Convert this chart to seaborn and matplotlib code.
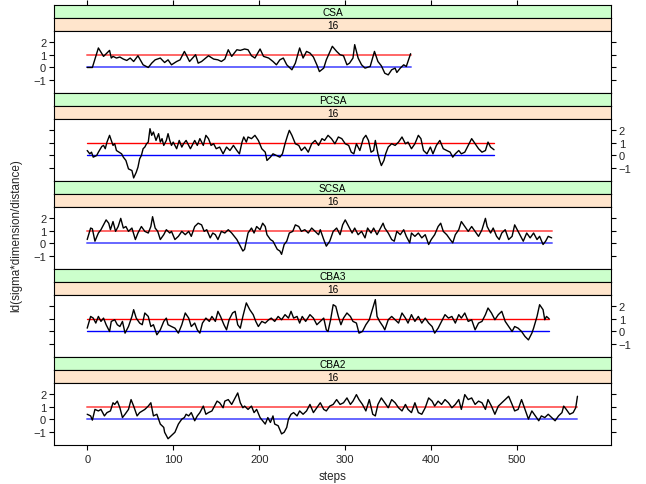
import matplotlib
matplotlib.use("Agg")
import matplotlib.pyplot as plt
import seaborn as sns

# Panel names (outer strip) and the dimension shown in the inner strip
PANELS = ["CSA", "PCSA", "SCSA", "CBA3", "CBA2"]
DIM_LABEL = "16"

# Turning points (step, value)
csa_steps = [0, 6, 13, 19, 26, 28, 30, 34, 38, 42, 46, 50, 54, 59, 65, 71, 75, 79, 85, 90,
             94, 98, 104, 108, 113, 116, 119, 126, 129, 133, 141, 147, 152, 156, 160, 164,
             168, 174, 178, 183, 187, 191, 195, 201, 205, 211, 216, 220, 224, 228, 232, 238,
             242, 247, 251, 255, 259, 263, 267, 270, 275, 278, 285, 290, 294, 298, 302, 305,
             309, 311, 315, 319, 323, 329, 334, 338, 342, 346, 350, 354, 358, 360, 364, 368,
             371, 376]
csa_vals = [0.0, 0.0, 1.53, 0.87, 1.34, 0.74, 0.87, 0.74, 0.82, 0.66, 0.55, 0.74, 0.47, 0.92,
            0.21, 0.0, 0.34, 0.6, 0.74, 0.39, 0.6, 0.21, 0.47, 0.6, 1.26, 0.87, 0.47, 1.0, 0.34,
            0.47, 0.92, 0.66, 0.6, 0.47, 0.66, 1.39, 0.87, 1.39, 1.34, 1.45, 1.39, 0.92, 0.74,
            1.45, 0.87, 0.74, 0.47, 0.21, 0.6, 0.74, 0.21, -0.18, 0.34, 1.53, 0.74, 1.26, 1.13,
            0.82, 0.21, -0.32, -0.05, 0.6, 1.66, 1.26, 1.0, 0.92, 0.21, 0.34, 0.74, 1.79, 0.74,
            0.21, -0.05, 0.08, 1.26, 0.47, 0.13, -0.45, -0.58, -0.18, -0.05, -0.39, -0.05, 0.21,
            0.08, 1.08]

pcsa_steps = [0, 3, 5, 7, 11, 13, 17, 19, 21, 23, 26, 28, 30, 32, 34, 37, 40, 42, 45, 48, 52,
              54, 57, 59, 61, 63, 65, 67, 69, 71, 73, 75, 77, 80, 83, 85, 87, 89, 92, 94, 96,
              98, 100, 104, 107, 110, 112, 115, 118, 120, 123, 125, 128, 131, 135, 138, 141,
              144, 147, 150, 154, 158, 162, 166, 170, 174, 177, 180, 182, 185, 187, 191, 195,
              199, 203, 207, 209, 213, 216, 220, 224, 227, 230, 233, 235, 238, 242, 246, 249,
              253, 257, 261, 265, 269, 273, 276, 280, 284, 288, 292, 296, 300, 304, 307, 310,
              313, 317, 321, 324, 327, 330, 333, 335, 338, 340, 342, 345, 347, 350, 354, 358,
              362, 366, 370, 373, 377, 381, 385, 388, 391, 395, 399, 402, 406, 410, 414, 418,
              422, 425, 428, 432, 435, 439, 443, 447, 451, 455, 459, 463, 466, 469, 473]
pcsa_vals = [0.39, 0.13, 0.26, -0.13, 0.0, 0.26, 0.71, 0.79, 0.53, 1.05, 1.58, 1.18, 0.79, 0.92,
             0.39, 0.26, 0.13, -0.13, -0.39, -1.05, -1.18, -1.76, -1.32, -0.92, -0.26, 0.0, 0.53,
             0.66, 0.92, 1.05, 2.1, 1.58, 1.84, 1.18, 1.71, 1.05, 1.32, 0.79, 1.18, 1.71, 1.18,
             0.79, 1.05, 0.53, 1.18, 0.66, 0.92, 1.18, 0.79, 0.53, 0.92, 1.18, 0.79, 1.32, 0.79,
             1.58, 1.32, 0.79, 0.92, 0.53, 0.66, 0.13, 0.66, 0.39, 0.79, 0.39, 0.13, 1.05, 1.45,
             1.05, 1.45, 1.32, 1.58, 1.18, 0.53, 0.26, -0.39, -0.13, 0.13, 0.0, -0.13, 0.13, 0.92,
             1.58, 1.97, 1.58, 0.92, 0.79, 0.39, 0.66, 0.26, 0.92, 1.18, 0.79, 1.32, 1.18, 1.58,
             1.32, 0.92, 1.45, 1.32, 0.92, 0.79, 0.26, 0.13, 0.92, 0.39, 1.32, 1.58, 1.18, 0.26,
             0.39, 1.18, 0.13, -0.39, -0.79, -0.39, 0.13, 0.66, 0.92, 0.79, 1.05, 1.45, 0.92,
             1.05, 0.53, 0.92, 1.58, 1.32, 0.39, 0.13, 0.66, 0.13, 0.79, 1.18, 0.53, 0.39, 0.26,
             -0.13, 0.13, 0.39, 0.13, 0.26, 0.79, 1.32, 0.92, 0.53, 0.26, 0.39, 1.05, 0.66, 0.45]

scsa_steps = [0, 4, 6, 9, 13, 16, 19, 22, 25, 27, 30, 33, 36, 39, 42, 45, 48, 52, 56, 59, 63,
              67, 71, 74, 76, 79, 82, 85, 89, 92, 96, 98, 102, 106, 110, 114, 118, 121, 125,
              129, 133, 136, 139, 143, 146, 149, 152, 156, 160, 164, 168, 171, 174, 177, 181,
              183, 187, 191, 194, 197, 201, 204, 207, 209, 213, 216, 219, 221, 224, 226, 229,
              232, 235, 239, 242, 246, 249, 253, 257, 261, 265, 269, 271, 275, 278, 282, 286,
              290, 294, 297, 300, 304, 308, 311, 315, 319, 323, 326, 330, 333, 337, 340, 344,
              346, 350, 354, 357, 360, 364, 368, 371, 375, 377, 381, 385, 389, 393, 397, 400,
              404, 408, 411, 414, 418, 422, 425, 428, 432, 435, 439, 443, 447, 451, 455, 459,
              463, 465, 469, 472, 476, 479, 482, 486, 490, 494, 497, 500, 503, 507, 511, 515,
              519, 523, 526, 530, 533, 536, 540]
scsa_vals = [0.31, 1.21, 1.15, 0.18, 0.82, 1.08, 1.46, 1.85, 1.59, 1.08, 1.72, 0.95, 1.33, 1.97,
             1.21, 1.33, 0.95, 1.21, 0.31, 0.82, 1.33, 0.95, 0.82, 1.33, 2.1, 1.21, 0.95, 0.31,
             0.69, 1.08, 0.82, 0.95, 0.31, 0.56, 0.95, 0.69, 0.95, 0.56, 1.33, 1.59, 1.46, 0.95,
             1.08, 0.44, 0.82, 0.69, 0.31, 0.95, 0.82, 1.08, 0.82, 0.56, 0.31, -0.08, -0.59,
             -0.46, 0.82, 1.21, 0.82, 1.33, 1.08, 1.59, 1.33, 0.69, 0.31, 0.18, -0.21, -0.46,
             -0.59, -0.85, -0.08, 0.18, 0.82, 0.95, 1.46, 1.33, 0.95, 1.08, 0.82, 1.21, 0.95,
             0.69, 1.08, 0.31, -0.21, 0.18, 0.95, 1.21, 0.69, 1.46, 1.85, 1.33, 0.82, 1.21, 0.69,
             0.95, 0.44, 1.21, 0.82, 1.21, 0.69, 1.08, 1.59, 1.21, 0.82, 0.31, 0.18, 0.95, 0.69,
             1.08, 0.56, 0.05, 0.82, 0.56, 0.82, 0.44, 0.69, -0.08, 0.31, 0.69, 1.33, 1.59, 0.95,
             0.69, 0.31, 0.05, 0.69, 1.08, 1.72, 1.33, 0.95, 1.33, 0.95, 0.56, 1.08, 1.97, 1.33,
             0.82, 1.21, 0.56, 0.31, 0.82, 1.08, 0.31, 0.56, 1.46, 1.08, 0.69, 0.18, 0.82, 0.44,
             0.82, 0.31, 0.56, -0.08, 0.18, 0.56, 0.44]

cba3_steps = [0, 4, 7, 10, 13, 16, 19, 22, 26, 28, 32, 35, 38, 41, 44, 48, 52, 54, 57, 61, 64,
              67, 71, 74, 77, 81, 85, 89, 92, 94, 98, 102, 106, 110, 114, 118, 121, 125, 128,
              131, 134, 138, 142, 145, 149, 152, 155, 159, 162, 165, 169, 172, 175, 178, 181,
              185, 189, 193, 196, 199, 203, 207, 211, 214, 218, 222, 226, 230, 234, 237, 240,
              244, 247, 250, 254, 259, 263, 267, 271, 275, 278, 280, 283, 286, 289, 292, 295,
              298, 302, 306, 309, 313, 316, 320, 324, 328, 332, 335, 337, 340, 344, 346, 350,
              354, 358, 362, 366, 370, 373, 377, 381, 385, 389, 393, 397, 401, 404, 408, 412,
              416, 420, 424, 428, 432, 435, 439, 443, 447, 451, 455, 459, 463, 466, 470, 474,
              478, 482, 486, 490, 494, 497, 501, 505, 509, 513, 517, 519, 523, 526, 530, 532,
              534, 537]
cba3_vals = [0.26, 1.18, 1.05, 0.66, 1.18, 0.79, 1.05, 0.53, 0.0, 0.79, 0.92, 0.53, 0.39, 0.79,
             -0.13, 0.39, 1.18, 1.71, 1.05, 0.66, 0.53, 1.45, 1.18, 0.39, 0.53, -0.26, 0.13, 0.79,
             1.05, 0.53, 0.39, 0.26, -0.13, 0.53, 1.45, 1.05, 0.39, 0.66, 0.13, -0.13, 0.66, 1.05,
             0.79, 1.18, 0.79, 1.58, 1.18, 0.53, 0.13, 0.92, 1.45, 1.58, 0.53, 0.26, 1.18, 2.24,
             1.71, 1.32, 0.79, 0.39, 0.79, 0.66, 0.92, 1.05, 0.79, 1.18, 0.92, 1.32, 1.05, 1.58,
             1.05, 1.18, 0.66, 1.18, 0.79, 1.32, 1.05, 0.53, 0.79, 1.05, 0.13, 0.0, 0.92, 2.1,
             1.97, 1.18, 0.53, 1.05, 1.45, 1.18, 0.79, 0.66, -0.13, 0.0, 0.53, 0.92, 1.84, 2.5,
             1.18, 0.79, 0.39, 0.13, 0.92, 1.18, 0.92, 0.66, 1.45, 1.05, 0.66, 1.32, 0.79, 1.18,
             0.66, 1.05, 0.66, 0.39, -0.13, 0.26, 0.79, 1.32, 1.05, 1.18, 0.66, 1.32, 1.05, 1.45,
             0.79, 0.92, 0.13, 0.66, 0.79, 1.32, 1.84, 1.45, 0.92, 1.32, 1.58, 0.79, 0.39, 0.0,
             0.39, 0.26, 0.0, -0.39, -0.66, -0.13, 0.26, 1.18, 2.1, 1.71, 0.92, 1.18, 1.0]

cba2_steps = [0, 4, 6, 9, 13, 16, 20, 23, 27, 30, 32, 35, 38, 41, 44, 48, 51, 54, 58, 61, 64,
              67, 71, 74, 77, 81, 85, 89, 90, 94, 98, 102, 106, 110, 113, 115, 118, 121, 125,
              128, 131, 135, 138, 141, 145, 149, 151, 154, 158, 160, 164, 168, 172, 175, 178,
              181, 183, 187, 191, 194, 197, 201, 204, 207, 210, 213, 216, 218, 222, 226, 229,
              232, 234, 237, 240, 244, 247, 251, 255, 259, 263, 267, 271, 275, 278, 282, 286,
              290, 294, 298, 302, 306, 309, 313, 316, 320, 324, 328, 332, 335, 338, 342, 346,
              350, 354, 358, 362, 366, 370, 373, 377, 381, 385, 389, 393, 397, 401, 404, 408,
              412, 416, 420, 424, 428, 432, 435, 439, 443, 447, 451, 455, 459, 463, 466, 470,
              474, 478, 482, 486, 490, 494, 497, 501, 505, 509, 513, 517, 521, 525, 528, 532,
              536, 540, 544, 548, 552, 554, 557, 561, 565, 568, 570]
cba2_vals = [0.41, 0.28, -0.05, 0.79, 0.67, 0.79, 0.28, 0.54, 0.67, 1.31, 1.18, 1.44, 0.92, 0.15,
             0.41, 0.79, 1.56, 1.05, 0.28, 0.54, 0.67, 0.79, 1.05, 1.31, 0.28, 0.41, -0.36, -0.62,
             -1.0, -1.51, -1.26, -1.0, -0.36, 0.03, 0.15, 0.41, 0.28, 0.54, -0.1, 0.28, 0.54,
             1.05, 0.41, 0.54, 0.67, 1.18, 1.44, 1.31, 0.92, 1.44, 1.56, 1.18, 1.69, 2.08, 1.31,
             0.92, 1.05, 0.79, 1.05, 0.54, 0.79, 0.15, -0.1, -0.36, 0.15, -0.23, 0.28, -0.36,
             -0.49, -1.13, -1.0, -0.62, 0.03, 0.41, 0.54, 0.28, 0.67, 0.41, 0.67, 1.18, 0.54,
             0.92, 1.31, 0.79, 0.67, 1.05, 1.18, 1.56, 1.18, 1.31, 1.69, 1.18, 1.44, 1.95, 1.56,
             1.18, 0.67, 1.56, 0.41, 0.28, 1.18, 1.69, 1.31, 0.92, 1.56, 1.31, 0.92, 0.67, 1.18,
             0.79, 0.54, 1.31, 0.54, 0.41, 0.92, 1.69, 1.44, 1.05, 1.44, 1.18, 1.56, 1.31, 0.92,
             1.18, 1.56, 0.79, 1.95, 1.56, 1.69, 1.18, 1.44, 1.31, 0.79, 1.56, 1.05, 0.41, 1.05,
             1.31, 1.56, 1.82, 1.18, 0.67, 0.79, 1.56, 0.79, 0.03, 0.67, 0.28, -0.1, 0.28, 0.15,
             0.41, 0.15, -0.1, 0.28, 0.54, 1.05, 0.79, 0.41, 0.54, 0.92, 1.82]

SERIES = [(csa_steps, csa_vals), (pcsa_steps, pcsa_vals), (scsa_steps, scsa_vals),
          (cba3_steps, cba3_vals), (cba2_steps, cba2_vals)]

XTICKS = [0, 100, 200, 300, 400, 500]
YTICKS = [-1, 0, 1, 2]
XLIM = (-38.6, 609)
YLIM = (-2.0, 2.86)

sns.set_theme(style="white")
plt.rcParams['font.family'] = ['Liberation Sans', 'DejaVu Sans']

W, H = 646, 485
fig = plt.figure(figsize=(W / 100, H / 100), dpi=100)
LEFT, RIGHT = 54, 611


def place(top, height):
    # pixel box -> figure fraction
    return [LEFT / W, 1 - (top + height) / H, (RIGHT - LEFT) / W, height / H]


def frame(ax):
    for sp in ax.spines.values():
        sp.set_visible(True)
        sp.set_color("black")
        sp.set_linewidth(0.8)


def strip(top, text, color):
    s = fig.add_axes(place(top, 13))
    s.set_facecolor(color)
    s.set_xlim(*XLIM)
    s.set_xticks([])
    s.set_yticks([])
    frame(s)
    s.text(0.5, 0.45, text, transform=s.transAxes, ha="center", va="center",
           fontsize=7.3, color="black")
    return s


for k, (name, (steps, vals)) in enumerate(zip(PANELS, SERIES)):
    top = 6 + 88 * k
    outer = strip(top, name, "#CCFFCC")
    strip(top + 13, DIM_LABEL, "#FFE5CC")

    ax = fig.add_axes(place(top + 26, 62))
    ax.set_facecolor("white")
    frame(ax)

    # reference lines look softer in the odd panels
    soft = (k % 2 == 0)
    ref_alpha = 0.6 if soft else 1.0
    ref_lw = 1.4 if soft else 1.0
    ends = [steps[0], steps[-1]]
    sns.lineplot(x=ends, y=[1, 1], ax=ax, color="#FF0000", lw=ref_lw, alpha=ref_alpha)
    sns.lineplot(x=ends, y=[0, 0], ax=ax, color="#0000FF", lw=ref_lw, alpha=ref_alpha)
    sns.lineplot(x=steps, y=vals, ax=ax, color="black", lw=1.0,
                 estimator=None, sort=False)

    ax.set_xlim(*XLIM)
    ax.set_ylim(*YLIM)
    ax.set_xlabel("")
    ax.set_ylabel("")
    ax.set_yticks(YTICKS)
    ax.tick_params(axis="y", left=True, right=True, direction="out", length=3.6,
                   width=0.8, color="black", labelsize=8, pad=2,
                   labelleft=(k % 2 == 0), labelright=(k % 2 == 1))

    if k == len(PANELS) - 1:
        ax.set_xticks(XTICKS)
        ax.tick_params(axis="x", bottom=True, direction="out", length=3.6, width=0.8,
                       color="black", labelsize=8, pad=3)
    else:
        ax.set_xticks([])

    if k == 0:
        outer.set_xticks(XTICKS)
        outer.tick_params(axis="x", top=True, bottom=False, labeltop=False,
                          labelbottom=False, direction="out", length=3.6, width=0.8,
                          color="black")

fig.text(16 / W, 1 - 236 / H, "ld(sigma*dimension/distance)", rotation=90,
         ha="center", va="center", fontsize=8.4)
fig.text((LEFT + RIGHT) / 2 / W, 1 - 477 / H, "steps", ha="center", va="center",
         fontsize=8.4)

fig.savefig("out.png", dpi=100)
